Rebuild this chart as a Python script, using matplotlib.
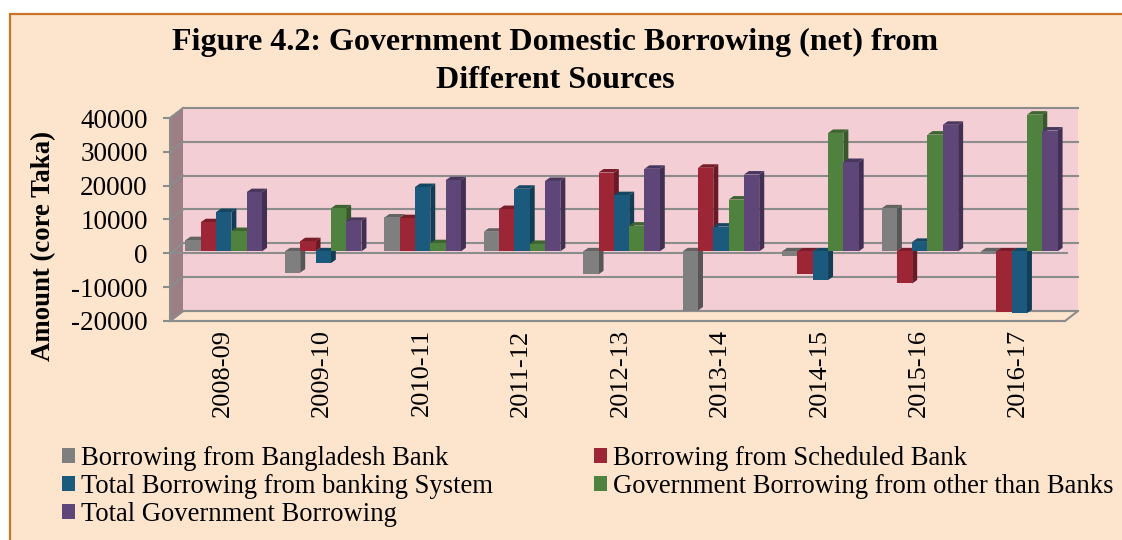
import matplotlib
matplotlib.use('Agg')
import matplotlib.pyplot as plt
from matplotlib.colors import to_rgb
from matplotlib.patches import Polygon, Rectangle
from matplotlib.transforms import IdentityTransform, ScaledTranslation

years = ['2008-09', '2009-10', '2010-11', '2011-12', '2012-13', '2013-14', '2014-15', '2015-16', '2016-17']
bangladesh_bank = [3300, -6300, 10000, 5800, -6800, -17500, -1500, 12700, -700]
scheduled_bank = [8600, 3000, 9800, 12500, 23300, 24700, -6700, -9500, -17800]
banking_system = [11600, -3500, 19000, 18500, 16600, 7300, -8500, 2800, -18300]
other_than_banks = [6000, 12700, 2400, 2200, 7600, 15300, 35000, 34500, 40400]
total_borrowing = [17500, 9000, 21000, 20800, 24400, 22700, 26400, 37400, 35700]

names = ['Borrowing from Bangladesh Bank', 'Borrowing from Scheduled Bank',
         'Total Borrowing from banking System', 'Government Borrowing from other than Banks',
         'Total Government Borrowing']
colors = ['#7f7f7f', '#9c2536', '#1b5a7d', '#4f823f', '#5f4678']
y_ticks = [-20000, -10000, 0, 10000, 20000, 30000, 40000]

W, H = 1122, 540
peach = '#fde5cd'
grey = '#8c8c8c'
line_w = 1.5
plt.rcParams['font.family'] = ['Liberation Serif', 'DejaVu Serif']

fig = plt.figure(figsize=(W / 100, H / 100), dpi=100, facecolor='white')
# orange frame, open to the right and the bottom
fig.add_artist(Rectangle((10 / W, -0.01), 1.02, (H - 14) / H + 0.01, transform=fig.transFigure,
                         facecolor=peach, edgecolor='#c8752a', linewidth=1.6, zorder=-1))

ax = fig.add_axes([170 / W, (H - 321) / H, 895 / W, 203 / H])
ax.patch.set_visible(False)
ax.set_xlim(-0.5, 8.5)
ax.set_ylim(-20000, 40000)


# data point pushed back into the chart, in pixels
def pt(x, y, dx=0, dy=0):
    px = ax.transData.transform((x, y))
    return (px[0] + dx, px[1] + dy)


def poly(points, color, z, edge='none', lw=0):
    ax.add_patch(Polygon(points, closed=True, facecolor=color, edgecolor=edge, linewidth=lw,
                         transform=IdentityTransform(), clip_on=False, zorder=z))


def dark(color, f):
    return tuple(c * f for c in to_rgb(color))


depth_x, depth_y = 13, 10
# back wall, side wall and floor
poly([pt(-0.5, -20000, depth_x, depth_y), pt(8.5, -20000, depth_x, depth_y),
      pt(8.5, 40000, depth_x, depth_y), pt(-0.5, 40000, depth_x, depth_y)], '#f3ced4', 1)
poly([pt(-0.5, -20000), pt(-0.5, -20000, depth_x, depth_y),
      pt(-0.5, 40000, depth_x, depth_y), pt(-0.5, 40000)], '#9b7f84', 2)
poly([pt(-0.5, -20000), pt(8.5, -20000), pt(8.5, -20000, depth_x, depth_y),
      pt(-0.5, -20000, depth_x, depth_y)], peach, 2, edge=grey, lw=line_w)

back = ax.transData + ScaledTranslation(depth_x / 100, depth_y / 100, fig.dpi_scale_trans)
for v in y_ticks:
    ax.plot([-0.5, 8.5], [v, v], color=grey, lw=line_w, transform=back, zorder=3, clip_on=False)
    # short slanted piece on the side wall
    a, b = pt(-0.5, v), pt(-0.5, v, depth_x, depth_y)
    ax.plot([a[0], b[0]], [a[1], b[1]], color=grey, lw=line_w, transform=IdentityTransform(),
            zorder=3, clip_on=False)

# zero line at the front
ax.plot([-0.5, 8.52], [0, 0], color=grey, lw=line_w, zorder=4, clip_on=False)

series = [bangladesh_bank, scheduled_bank, banking_system, other_than_banks, total_borrowing]
bar_w = 0.154
off_x, off_y = 4, 2
side_x, side_y = 5, 3.5
front = ax.transData + ScaledTranslation(off_x / 100, off_y / 100, fig.dpi_scale_trans)
legend_handles = []
for s, (vals, col) in enumerate(zip(series, colors)):
    xs = [i + (s - 2) * bar_w for i in range(len(years))]
    bars = ax.bar(xs, vals, width=bar_w, color=col, transform=front, zorder=10 + s * 2, clip_on=False)
    legend_handles.append(bars)
    for x, v in zip(xs, vals):
        top, bot = max(v, 0), min(v, 0)
        l, r = x - bar_w / 2, x + bar_w / 2
        poly([pt(r, bot, off_x, off_y), pt(r, top, off_x, off_y),
              pt(r, top, off_x + side_x, off_y + side_y), pt(r, bot, off_x + side_x, off_y + side_y)],
             dark(col, 0.68), 9 + s * 2)
        poly([pt(l, top, off_x, off_y), pt(r, top, off_x, off_y),
              pt(r, top, off_x + side_x, off_y + side_y), pt(l, top, off_x + side_x, off_y + side_y)],
             dark(col, 0.78), 9 + s * 2)

for sp in ['top', 'right']:
    ax.spines[sp].set_visible(False)
for sp in ['left', 'bottom']:
    ax.spines[sp].set_color(grey)
    ax.spines[sp].set_linewidth(line_w)
    ax.spines[sp].set_zorder(5)

ax.set_yticks(y_ticks)
ax.set_yticklabels([str(v) for v in y_ticks], fontsize=19.5)
ax.tick_params(axis='y', length=5, width=line_w, color=grey, pad=11)
ax.set_xticks(range(len(years)))
ax.set_xticklabels(years, rotation=90, fontsize=19)
ax.tick_params(axis='x', length=0, pad=6)
label_shift = ScaledTranslation(3 / 100, 0, fig.dpi_scale_trans)
for lab in ax.get_xticklabels():
    lab.set_transform(lab.get_transform() + label_shift)

fig.text(44 / W, 1 - 246 / H, 'Amount (core Taka)', rotation=90, fontsize=19.3, fontweight='bold',
         ha='center', va='center')
fig.text(555 / W, 1 - 42 / H, 'Figure 4.2: Government Domestic Borrowing (net) from', fontsize=23,
         fontweight='bold', ha='center', va='center')
fig.text(555 / W, 1 - 81 / H, 'Different Sources', fontsize=23, fontweight='bold', ha='center', va='center')

# column order: the legend fills top to bottom
order = [0, 2, 4, 1, 3]
fig.legend([legend_handles[i] for i in order], [names[i] for i in order], ncol=2,
           loc='upper left', bbox_to_anchor=(58 / W, 1 - 442 / H), frameon=False, fontsize=19.2,
           handlelength=0.49, handleheight=0.49, handletextpad=0.23, columnspacing=3.77,
           labelspacing=0.105, borderpad=0.15, borderaxespad=0)

fig.savefig('out.png', dpi=100)
